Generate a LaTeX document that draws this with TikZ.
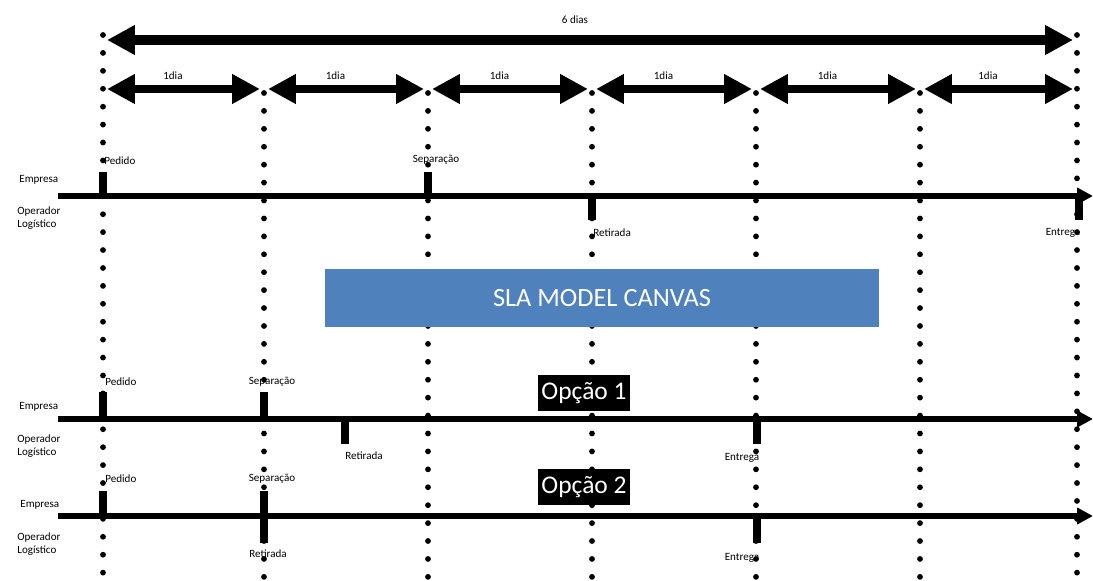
\documentclass[tikz,border=0pt]{standalone}
\usepackage{fontspec}
\setmainfont{Carlito}
\usetikzlibrary{positioning,arrows.meta}

\begin{document}
\begin{tikzpicture}[x=0.02cm, y=-0.02cm,
    pontos/.style={line width=3.3pt, line cap=round, dash pattern=on 0pt off 10.2pt},
    periodo/.style={line width=5.5pt, shorten <=2.3pt, shorten >=2.3pt,
      {Triangle[length=15.9pt,width=16pt]}-{Triangle[length=15.9pt,width=16pt]}},
    linha/.style={line width=3.4pt, -{Triangle[length=9pt,width=9pt]}},
    marca/.style={line width=4pt},
    lbl/.style={font=\fontsize{6.3}{7.6}\selectfont, inner sep=0pt},
    opcao/.style={fill=black, text=white, inner sep=0pt, minimum width=52pt,
      minimum height=21pt, font=\fontsize{14.5}{16}\selectfont}]

\useasboundingbox (0,0) rectangle (1093,581);

% linhas verticais pontilhadas
\foreach \x/\y [count=\i] in {103/35, 264/93, 428/93, 592/93, 756/93, 920/93, 1077/35} {
  \coordinate (v\i) at (\x,\y);
  \coordinate (d\i) at (\x,89);
  \draw[pontos] (v\i) -- (\x,585);
}

% periodos
\coordinate (s1) at (103,40);
\coordinate (s2) at (1077,40);
\draw[periodo] (s1) -- (s2);
\node[lbl] (seisdias) at (575,20) {6 dias};

\foreach \i/\j in {1/2, 2/3, 3/4, 4/5, 5/6, 6/7} {
  \draw[periodo, line width=5pt] (d\i) -- node[lbl, xshift=-6pt, yshift=7.4pt] (dia\i) {1dia} (d\j);
}

% linha do tempo atual
\coordinate (a1) at (58,196);
\coordinate (a2) at (1093,196);
\draw[linha] (a1) -- (a2);
\node[lbl, anchor=west] (emp1) at (19,180) {Empresa};
\node[lbl, anchor=west, align=left] (op1) at (17,218) {Operador\\Logístico};

\coordinate (pa) at (103,172);
\coordinate (sa) at (428,172);
\coordinate (ra) at (592,220);
\coordinate (ea) at (1079,220);
\draw[marca] (pa) -- (pa |- a1);
\draw[marca] (sa) -- (sa |- a1);
\draw[marca] (ra) -- (ra |- a1);
\draw[marca] (ea) -- (ea |- a1);
\node[lbl, anchor=west] (ped1) at (104,161) {Pedido};
\node[lbl] (sep1) at (436,160) {Separação};
\node[lbl, anchor=west] (ret1) at (593,233) {Retirada};
\node[lbl] (ent1) at (1063,233) {Entrega};

% canvas
\node[fill={rgb,255:red,79;green,129;blue,189}, text=white, inner sep=0pt,
  minimum width=315.2pt, minimum height=32.9pt, font=\fontsize{15}{17}\selectfont]
  (sla) at (602,298) {SLA MODEL CANVAS};

% opcao 1
\coordinate (b1) at (58,419);
\coordinate (b2) at (1093,419);
\draw[linha] (b1) -- (b2);
\node[lbl, anchor=west] (emp2) at (19,407) {Empresa};
\node[lbl, anchor=west, align=left] (op2) at (17,446) {Operador\\Logístico};
\node[opcao] (opc1) at (584,393) {Opção 1};

\coordinate (pb) at (103,392);
\coordinate (sb) at (264,392);
\coordinate (rb) at (345,444);
\coordinate (eb) at (757,444);
\draw[marca] (pb) -- (pb |- b1);
\draw[marca] (sb) -- (sb |- b1);
\draw[marca] (rb) -- (rb |- b1);
\draw[marca] (eb) -- (eb |- b1);
\node[lbl, anchor=west] (ped2) at (105,382) {Pedido};
\node[lbl] (sep2) at (272,382) {Separação};
\node[lbl] (ret2) at (364,456) {Retirada};
\node[lbl] (ent2) at (742,458) {Entrega};

% opcao 2
\coordinate (c1) at (58,516);
\coordinate (c2) at (1093,516);
\draw[linha] (c1) -- (c2);
\node[lbl, anchor=west] (emp3) at (20,505) {Empresa};
\node[lbl, anchor=west, align=left] (op3) at (17,544) {Operador\\Logístico};
\node[opcao] (opc2) at (584,487) {Opção 2};

\coordinate (pc) at (103,491);
\coordinate (sc) at (264,491);
\coordinate (rc) at (264,543);
\coordinate (ec) at (757,543);
\draw[marca] (pc) -- (pc |- c1);
\draw[marca] (sc) -- (rc);
\draw[marca] (ec) -- (ec |- c1);
\node[lbl, anchor=west] (ped3) at (105,479) {Pedido};
\node[lbl] (sep3) at (272,479) {Separação};
\node[lbl] (ret3) at (268,554) {Retirada};
\node[lbl] (ent3) at (742,558) {Entrega};
\end{tikzpicture}
\end{document}
